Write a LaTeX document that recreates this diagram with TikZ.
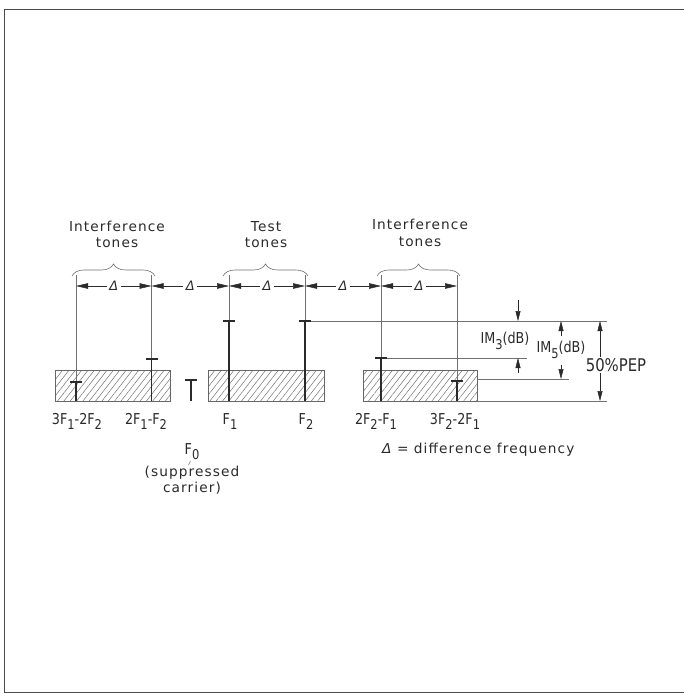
\documentclass[tikz,border=0pt]{standalone}
\usepackage{fontspec}
\setmainfont{DejaVu Sans}
\newfontfamily\hd{DejaVu Sans}[LetterSpace=8]
\newfontfamily\nar{DejaVu Sans}[FakeStretch=0.85]
\usetikzlibrary{arrows.meta,patterns.meta,decorations.pathreplacing}
\newcommand\sbs[1]{\raisebox{-0.36em}{\scalebox{0.9}{#1}}}
\definecolor{ink}{HTML}{2A2A2A}
\definecolor{thinc}{HTML}{707070}
\begin{document}
\begin{tikzpicture}[x=1pt,y=-1pt,
  every node/.style={text=ink},
  frame/.style={draw=black!70, line width=1pt},
  thinl/.style={draw=thinc, line width=0.5pt},
  tone/.style={draw=ink, line width=1.6pt},
  capl/.style={draw=ink, line width=1.1pt},
  box/.style={draw=black!60, line width=0.6pt, pattern={Lines[angle=52,distance=5pt,line width=0.5pt]}, pattern color=thinc},
  brc/.style={draw=thinc, line width=0.6pt, decorate, decoration={brace, amplitude=12pt}},
  tipa/.tip={Triangle[length=12pt,width=5.5pt]},
  tipb/.tip={Triangle[length=10pt,width=5pt]},
  dim/.style={draw=ink, line width=0.5pt, tipa-tipa},
  vdim/.style={draw=ink, line width=0.5pt, tipb-tipb},
  arr/.style={draw=ink, line width=0.5pt, -tipb},
  hdtext/.style={font=\fontsize{13.7}{16}\hd, inner sep=0pt, anchor=base},
  lbl/.style={font=\fontsize{15}{18}\nar, inner sep=0pt, anchor=base},
  dlab/.style={fill=white, inner sep=2.5pt, font=\fontsize{13}{15}\selectfont\itshape}
]
\useasboundingbox (0,0) rectangle (684,694);
\draw[frame] (684,9) -- (4,9) -- (4,692) -- (684,692);

% hatched bands
\draw[box] (55,370) rectangle (170,401);
\draw[box] (208,370) rectangle (324,401);
\draw[box] (363,370) rectangle (477,401);

% tones
\foreach \n/\x/\t in {a/76/382, b/151.5/359, c/229/321, d/305/321, e/381/358, f/457/381} {
  \coordinate (top\n) at (\x,\t);
  \coordinate (base\n) at (\x,401);
  \coordinate (up\n) at (\x,275);
  \coordinate (dl\n) at (\x,286);
  \draw[thinl] (up\n) -- (top\n);
  \draw[tone] (top\n) -- (base\n);
  \draw[capl] ([xshift=-6pt]top\n) -- ([xshift=6pt]top\n);
}

% suppressed carrier marker
\coordinate (tTop) at (191,380);
\coordinate (tBase) at (191,401);
\draw[capl] ([xshift=-6pt]tTop) -- ([xshift=6pt]tTop);
\draw[capl] (tTop) -- (tBase);

% braces
\draw[brc] (72,276) -- (155,276);
\draw[brc] (223,276) -- (308,276);
\draw[brc] (377,276) -- (460,276);

% headings
\node[hdtext] (it1) at (117,231) {Interference};
\node[hdtext] (it2) at (117,247) {tones};
\node[hdtext] (tt1) at (266,231) {Test};
\node[hdtext] (tt2) at (266,247) {tones};
\node[hdtext] (rt1) at (420,229) {Interference};
\node[hdtext] (rt2) at (420,246) {tones};

% difference dimension row
\draw[dim] (dla) -- (dlb) node[midway,dlab] (del1) {Δ};
\draw[dim] (dlb) -- (dlc) node[midway,dlab] (del2) {Δ};
\draw[dim] (dlc) -- (dld) node[midway,dlab] (del3) {Δ};
\draw[dim] (dld) -- (dle) node[midway,dlab] (del4) {Δ};
\draw[dim] (dle) -- (dlf) node[midway,dlab] (del5) {Δ};

% level reference lines
\coordinate (r1a) at (311,321); \coordinate (r1b) at (607,321);
\coordinate (r2a) at (387,358); \coordinate (r2b) at (527,358);
\coordinate (r3a) at (477,379); \coordinate (r3b) at (569,379);
\coordinate (r4a) at (477,401); \coordinate (r4b) at (607,401);
\draw[thinl] (r1a) -- (r1b);
\draw[thinl] (r2a) -- (r2b);
\draw[thinl] (r3a) -- (r3b);
\draw[thinl] (r4a) -- (r4b);

% IM3
\coordinate (im3s) at (518,300); \coordinate (im3e) at (518,321);
\coordinate (im3u) at (518,373); \coordinate (im3v) at (518,358);
\draw[arr] (im3s) -- (im3e);
\draw[arr] (im3u) -- (im3v);
\node[lbl, anchor=center] (im3) at (505,341) {IM\sbs{3}(dB)};
% IM5
\coordinate (im5s) at (561,336); \coordinate (im5e) at (561,321);
\coordinate (im5u) at (561,365); \coordinate (im5v) at (561,379);
\draw[arr] (im5s) -- (im5e);
\draw[arr] (im5u) -- (im5v);
\node[lbl, anchor=center] (im5) at (561,350) {IM\sbs{5}(dB)};
% 50% PEP
\coordinate (pepT) at (600,321); \coordinate (pepB) at (600,401);
\draw[vdim] (pepT) -- (pepB);
\node[lbl, anchor=center, fill=white, inner sep=1pt, font=\fontsize{17.5}{20}\nar] (pep) at (616,365) {50\%PEP};

% frequency labels
\node[lbl] (l1) at (77,424) {3F\sbs{1}-2F\sbs{2}};
\node[lbl] (l2) at (146,424) {2F\sbs{1}-F\sbs{2}};
\node[lbl] (l3) at (230,424) {F\sbs{1}};
\node[lbl] (l4) at (306,424) {F\sbs{2}};
\node[lbl] (l5) at (376,424) {2F\sbs{2}-F\sbs{1}};
\node[lbl] (l6) at (455,424) {3F\sbs{2}-2F\sbs{1}};

% carrier
\node[lbl] (f0) at (192,454) {F\sbs{0}};
\node[hdtext] (sup) at (192,476) {(suppressed};
\node[hdtext] (car) at (192,492) {carrier)};
\coordinate (ldA) at (190.5,461); \coordinate (ldB) at (188.5,465);
\draw[thinl] (ldA) -- (ldB);

% legend
\node[hdtext, anchor=base west] (leg) at (382,453) {\itshape Δ\upshape{} = difference frequency};
\end{tikzpicture}
\end{document}
